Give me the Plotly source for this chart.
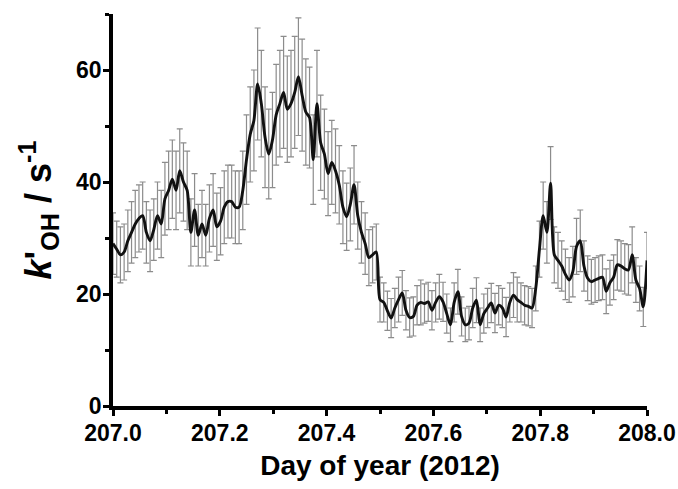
import plotly.graph_objects as go

day = [207 + i / 144 for i in range(145)]

k_oh = [
    29, 28, 27, 27.5, 29.5, 31, 32.5, 33.5, 34, 31,
    29.5, 31.5, 34, 32.5, 37, 38.5, 40.5, 38.5, 42, 40,
    38.5, 31, 35, 30.5, 32.5, 30.5, 33.5, 35, 32, 33,
    35.5, 36.5, 36.5, 35.5, 35.5, 38.5, 44, 48.5, 51, 57.5,
    54, 48, 45, 47.5, 52, 54, 56, 53, 54, 56,
    58.8, 55.5, 52.5, 51.5, 44, 54, 47, 45, 41.5, 43.5,
    42, 39.5, 35.5, 33.8, 36, 39.5, 34, 31, 29, 26.5,
    27, 27.5, 19, 18.5, 17, 15.7, 17.5, 19, 20.2, 17.1,
    15.8, 16, 18, 18.5, 18.3, 18.6, 17.1, 18.5, 19.5, 18.6,
    16.5, 14.5, 18.5, 20.4, 16, 14.5, 14.8, 17.5, 18.9, 14.5,
    16.5, 17.5, 18.4, 16.6, 18, 17.5, 15.9, 18.5, 19.8, 19,
    18.5, 18, 17.8, 17.5, 21, 28, 34, 31, 39.8, 27,
    26, 25, 23.5, 22.5, 24, 28.5, 29.5, 25, 22.8, 22.2,
    22.5, 22.8, 23, 20.5, 22, 23, 25.2, 25, 24.5, 24.3,
    27, 22.5, 21, 17.7, 26,
]

err = [
    5.5, 5.0, 5.0, 5.0, 5.5, 5.5, 6.0, 6.0, 6.0, 5.5,
    5.5, 5.5, 6.0, 6.0, 6.5, 7.0, 7.0, 7.0, 7.5, 7.0,
    7.0, 6.0, 6.5, 5.5, 6.0, 5.5, 6.0, 6.5, 6.0, 6.0,
    6.5, 6.5, 6.5, 6.5, 6.5, 7.0, 8.0, 8.5, 9.0, 10.0,
    9.5, 9.0, 8.0, 8.5, 9.0, 9.5, 10.0, 9.5, 9.5, 10.0,
    10.5, 10.0, 9.5, 9.0, 8.0, 9.5, 8.5, 8.0, 7.5, 7.5,
    7.5, 7.0, 6.5, 6.0, 6.5, 7.0, 6.0, 5.5, 5.5, 5.0,
    5.0, 5.0, 4.0, 3.5, 3.5, 3.5, 3.5, 4.0, 4.0, 3.5,
    3.5, 3.5, 3.5, 4.0, 3.5, 3.5, 3.5, 3.5, 4.0, 3.5,
    3.5, 3.0, 3.5, 4.0, 3.5, 3.0, 3.0, 3.5, 4.0, 3.0,
    3.5, 3.5, 3.5, 3.5, 3.5, 3.5, 3.5, 3.5, 4.0, 4.0,
    3.5, 3.5, 3.5, 3.5, 4.0, 5.0, 6.0, 5.5, 6.5, 5.0,
    5.0, 4.5, 4.5, 4.0, 4.5, 5.0, 5.5, 4.5, 4.0, 4.0,
    4.0, 4.0, 4.0, 4.0, 4.0, 4.0, 4.5, 4.5, 4.5, 4.5,
    5.0, 4.0, 4.0, 3.5, 5.0,
]

x_ticks = [207.0, 207.2, 207.4, 207.6, 207.8, 208.0]
y_ticks = [0, 20, 40, 60]

fig = go.Figure()
fig.add_trace(go.Scatter(
    x=day, y=k_oh, mode="lines",
    line=dict(color="#111111", width=2.9, shape="spline", smoothing=0.8),
    error_y=dict(type="data", array=err, visible=True,
                 color="#8c8c8c", thickness=1.2, width=3),
    showlegend=False,
))

font_fam = "Liberation Sans, Arial, sans-serif"
fig.update_layout(
    width=678, height=489,
    margin=dict(l=113, r=31, t=14, b=83),
    paper_bgcolor="white", plot_bgcolor="white",
    font=dict(family=font_fam, size=17, color="black"),
    xaxis=dict(
        range=[207.0, 208.0], automargin=False,
        tickvals=x_ticks, ticktext=[f"{v:.1f}" for v in x_ticks],
        showgrid=False, zeroline=False,
        showline=True, linecolor="black", linewidth=3.5,
        ticks="outside", ticklen=6, tickwidth=3, tickcolor="black",
        ticklabelstandoff=-2,
        minor=dict(ticks="outside", ticklen=4, tickwidth=3, dtick=0.1, tick0=207.0, tickcolor="black"),
        tickfont=dict(family=font_fam, size=23, color="black", weight="bold"),
        title=dict(text="Day of year (2012)", standoff=11,
                   font=dict(family=font_fam, size=28, color="black", weight="bold")),
    ),
    yaxis=dict(
        range=[0, 70], automargin=False,
        tickvals=y_ticks,
        showgrid=False, zeroline=False,
        showline=True, linecolor="black", linewidth=3.5,
        ticks="outside", ticklen=6, tickwidth=3, tickcolor="black",
        ticklabelstandoff=-3,
        minor=dict(ticks="outside", ticklen=4, tickwidth=3, dtick=10, tick0=0, tickcolor="black"),
        tickfont=dict(family=font_fam, size=23, color="black", weight="bold"),
        title=dict(text="<i>k</i>'<sub>OH</sub> / s<sup>-1</sup>", standoff=14,
                   font=dict(family=font_fam, size=36, color="black", weight="bold")),
    ),
)

fig.write_html("out.html")
